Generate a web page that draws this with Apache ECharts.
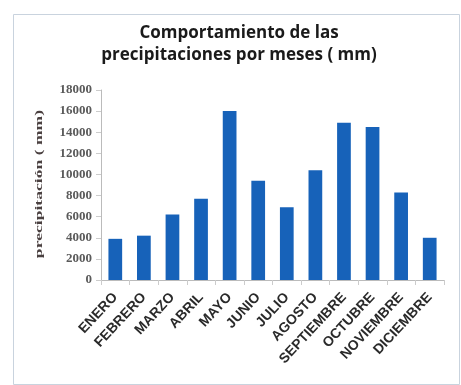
<!DOCTYPE html>
<html><head><meta charset="utf-8">
<script src="https://cdn.jsdelivr.net/npm/echarts@6/dist/echarts.min.js"></script>
<style>html,body{margin:0;padding:0;background:#fff}#c{width:461px;height:385px}</style>
</head><body><div id="c"></div>
<script>
const months = ['ENERO','FEBRERO','MARZO','ABRIL','MAYO','JUNIO','JULIO','AGOSTO','SEPTIEMBRE','OCTUBRE','NOVIEMBRE','DICIEMBRE'];
const precipitation = [3900, 4200, 6200, 7700, 16000, 9400, 6900, 10400, 14900, 14500, 8300, 4000];
const yTicks = {min: 0, max: 18000, interval: 2000};
const yAxisName = 'precipitación ( mm)';

const chart = echarts.init(document.getElementById('c'));
chart.setOption({
  animation: false,
  graphic: [{
    type: 'rect', left: 11, top: 12, shape: {width: 446, height: 370},
    style: {fill: 'none', stroke: '#c9d3de', lineWidth: 1}, z: -1
  }, {
    type: 'text', x: 39, y: 184, rotation: Math.PI / 2, scaleX: 1.6,
    style: {text: yAxisName, fontFamily: 'Liberation Serif', fontSize: 11, fontWeight: 'bold',
      fill: '#4a4040', align: 'center', verticalAlign: 'middle'}
  }],
  title: {
    text: 'Comportamiento de las\nprecipitaciones por meses ( mm)',
    left: 234, top: 17, textAlign: 'center',
    textStyle: {fontFamily: 'Open Sans', fontWeight: 'bold', fontSize: 17, color: '#1a1a1a', lineHeight: 22}
  },
  grid: {left: 101, right: 17, top: 90, bottom: 105},
  xAxis: {
    type: 'category', data: months,
    axisLine: {lineStyle: {color: '#bbbbbb'}},
    axisTick: {show: true, lineStyle: {color: '#cccccc'}},
    axisLabel: {rotate: 47, interval: 0, fontFamily: 'Liberation Sans', fontWeight: 'bold', fontSize: 14, color: '#2a2a2a', margin: 15}
  },
  yAxis: {
    type: 'value', min: yTicks.min, max: yTicks.max, interval: yTicks.interval,
    axisLine: {show: true, lineStyle: {color: '#bbbbbb'}},
    axisTick: {show: true, lineStyle: {color: '#cccccc'}},
    splitLine: {show: false},
    axisLabel: {fontFamily: 'Liberation Serif', fontSize: 13, fontWeight: 'bold', color: '#5a5a5a', margin: 9,
      formatter: v => String(v)}
  },
  series: [{
    type: 'bar', data: precipitation, barWidth: '48%',
    itemStyle: {color: '#1762b9'}
  }]
});
</script></body></html>
